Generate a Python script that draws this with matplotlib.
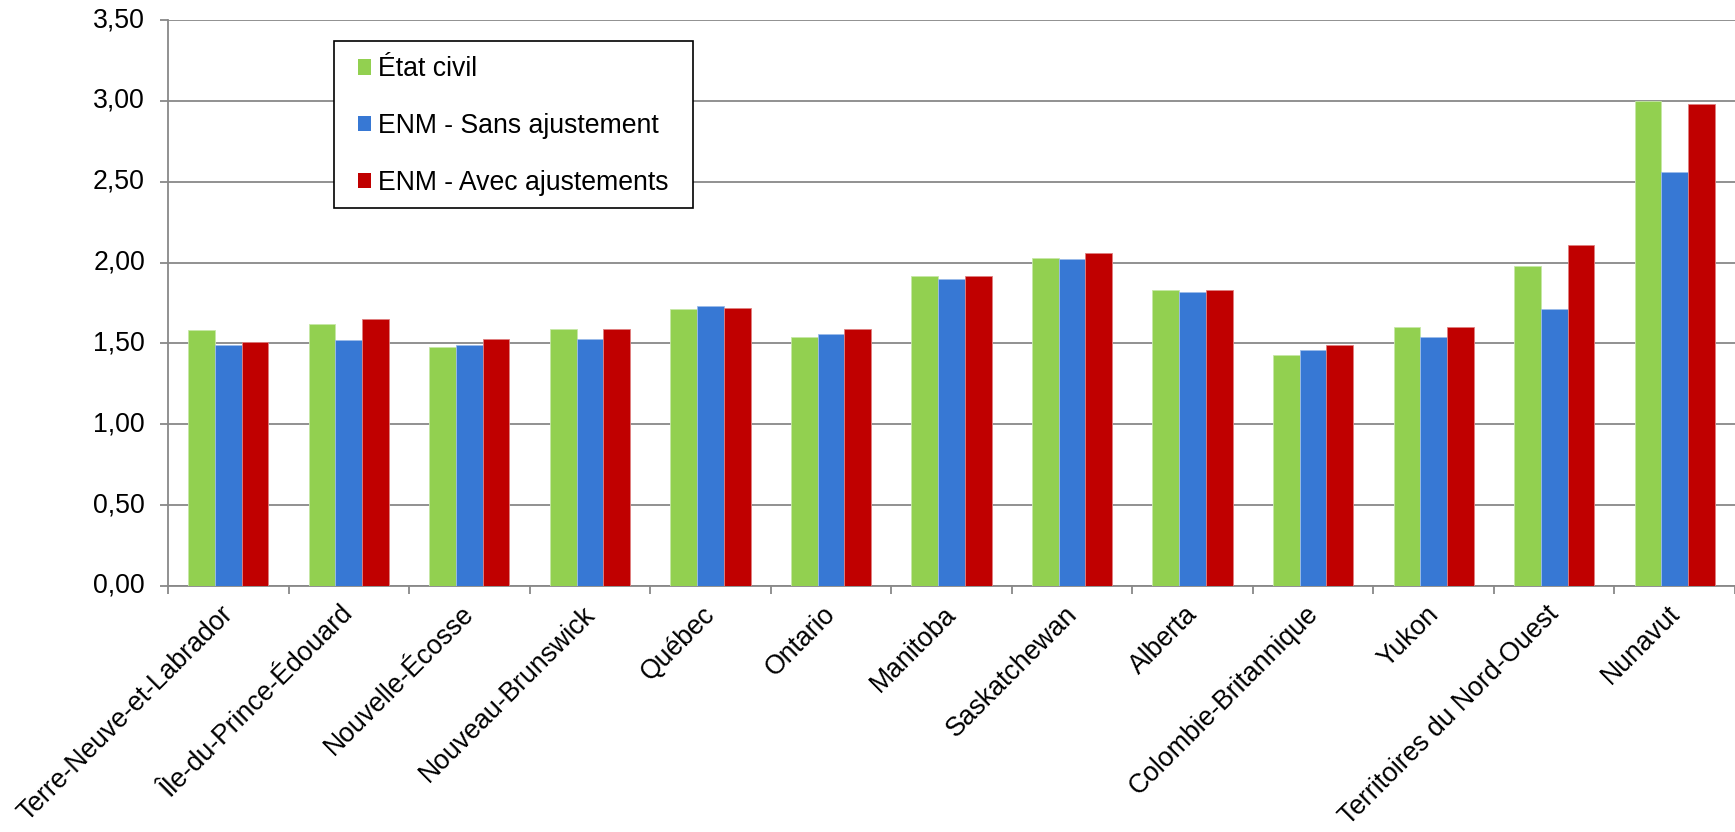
import matplotlib
matplotlib.use("Agg")
import matplotlib.pyplot as plt
import matplotlib.transforms as mtransforms
from matplotlib.patches import Rectangle
import numpy as np
from matplotlib.ticker import FuncFormatter, FixedLocator

plt.rcParams['font.family'] = ['Liberation Sans', 'DejaVu Sans']

categories = ["Terre-Neuve-et-Labrador", "Île-du-Prince-Édouard", "Nouvelle-Écosse",
              "Nouveau-Brunswick", "Québec", "Ontario", "Manitoba", "Saskatchewan",
              "Alberta", "Colombie-Britannique", "Yukon", "Territoires du Nord-Ouest", "Nunavut"]
etat_civil = [1.58, 1.62, 1.48, 1.59, 1.71, 1.54, 1.92, 2.03, 1.83, 1.43, 1.60, 1.98, 3.00]
enm_sans = [1.49, 1.52, 1.49, 1.53, 1.73, 1.56, 1.90, 2.02, 1.82, 1.46, 1.54, 1.71, 2.56]
enm_avec = [1.51, 1.65, 1.53, 1.59, 1.72, 1.59, 1.92, 2.06, 1.83, 1.49, 1.60, 2.11, 2.98]
series_names = ["État civil", "ENM - Sans ajustement", "ENM - Avec ajustements"]
colors = ["#92D050", "#3778D4", "#C00000"]
edges = ["#C6E8A6", "#9CBCEA", "#E08080"]
yticks = [0.0, 0.5, 1.0, 1.5, 2.0, 2.5, 3.0, 3.5]

W, H = 1735, 832
FS = 19.2
fig = plt.figure(figsize=(W / 100, H / 100), dpi=100)
ax = fig.add_axes([168 / W, 1 - 586 / H, (W - 168) / W, (586 - 20) / H])

x = np.arange(len(categories))
bw = 0.222
handles = []
for i, (vals, c, e, name) in enumerate(zip([etat_civil, enm_sans, enm_avec], colors, edges, series_names)):
    b = ax.bar(x + (i - 1) * bw, vals, width=bw, color=c, edgecolor=e, linewidth=0.6,
               label=name, zorder=3)
    handles.append(b)

ax.set_xlim(-0.5, len(categories) - 0.5)
ax.set_ylim(0, 3.5)
ax.set_yticks(yticks)
ax.yaxis.set_major_formatter(FuncFormatter(lambda v, p: f"{v:.2f}".replace(".", ",")))
ax.grid(axis='y', color='#888888', linewidth=1.3, zorder=0)
ax.set_axisbelow(True)

for s in ['top', 'right']:
    ax.spines[s].set_visible(False)
for s in ['left', 'bottom']:
    ax.spines[s].set_color('#888888')
    ax.spines[s].set_linewidth(1.3)

ax.tick_params(axis='y', length=6, width=1.3, color='#888888', labelsize=FS, pad=10.6)
plt.setp(ax.get_yticklabels(), va='center')
ax.set_xticks(x)
ax.set_xticklabels(categories, rotation=45, ha='right', va='baseline',
                   rotation_mode='anchor', fontsize=FS)
ax.tick_params(axis='x', which='major', length=0, pad=21)
offset = mtransforms.ScaledTranslation(6 / 100, 0, fig.dpi_scale_trans)
for lbl in ax.get_xticklabels():
    lbl.set_transform(lbl.get_transform() + offset)
ax.xaxis.set_minor_locator(FixedLocator(np.arange(-0.5, len(categories), 1.0)))
ax.tick_params(axis='x', which='minor', length=6, width=1.3, color='#888888')

# legend frame
fig.patches.append(Rectangle((334 / W, 1 - 207.7 / H), (693 - 334) / W, (207.7 - 40.7) / H,
                             transform=fig.transFigure, facecolor='white',
                             edgecolor='black', linewidth=1.2, zorder=5))
leg = fig.legend(handles=handles, loc='upper left', bbox_to_anchor=(358 / W, 1 - 56.5 / H),
                 fontsize=FS, frameon=False,
                 handlelength=0.5, handleheight=0.5, handletextpad=0.26,
                 labelspacing=1.15, borderpad=0, borderaxespad=0)
leg.set_zorder(6)
for h in leg.legend_handles:
    h.set_edgecolor('none')

fig.savefig("out.png", dpi=100, facecolor='white')
